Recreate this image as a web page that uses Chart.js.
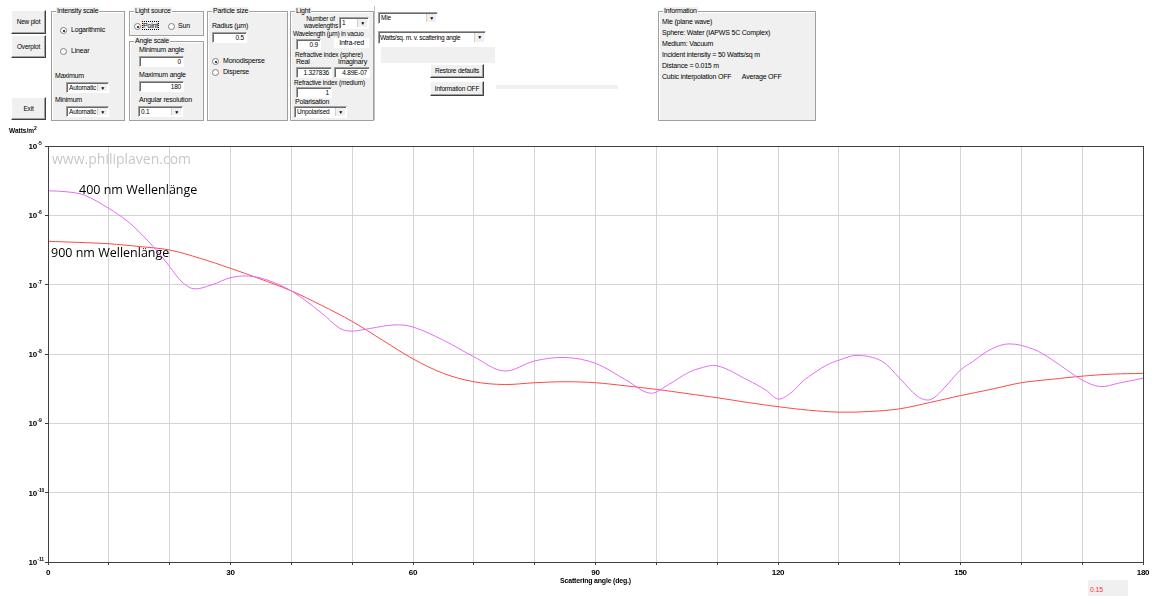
<!DOCTYPE html>
<html>
<head>
<meta charset="utf-8">
<script src="https://cdn.jsdelivr.net/npm/chart.js@4"></script>
<style>
  body { margin: 0; width: 1171px; height: 596px; background: #fff; position: relative; overflow: hidden;
         font-family: "Liberation Sans", Arial, sans-serif; font-size: 7px; letter-spacing: -0.2px; color: #000; }
  .abs { position: absolute; white-space: nowrap; }
  .group { position: absolute; background: #f0f0f0; border: 1px solid #a0a0a0; box-shadow: inset 1px 1px 0 #fff; }
  .gtitle { position: absolute; top: -5px; left: 4px; background: #f0f0f0; padding: 0 1px; line-height: 8px; }
  .btn { position: absolute; background: #f0f0f0; border: 1px solid; border-color: #fff #404040 #404040 #fff;
         box-shadow: inset -1px -1px 0 #a0a0a0; text-align: center; font-size: 6.5px; white-space: nowrap; }
  .input { position: absolute; background: #fff; border: 1px solid; border-color: #a0a0a0 #fff #fff #a0a0a0;
           box-shadow: inset 1px 1px 0 #696969; text-align: right; padding-right: 2px; box-sizing: border-box; font-size: 6.5px; }
  .select { position: absolute; background: #fff; border: 1px solid; border-color: #a0a0a0 #fff #fff #a0a0a0;
            box-shadow: inset 1px 1px 0 #696969; box-sizing: border-box; padding-left: 2px; font-size: 6.5px;
            white-space: nowrap; overflow: hidden; }
  .select::after { content: "▼"; position: absolute; right: 1px; top: 1px; bottom: 1px; width: 9px; background: #f0f0f0;
            border-left: 1px solid #d0d0d0; font-size: 5px; text-align: center; line-height: 8px; }
  .radio { position: absolute; width: 5px; height: 5px; border-radius: 50%; background: #fff; border: 1px solid #808080; }
  .radio.on::after { content: ""; position: absolute; left: 1.5px; top: 1.5px; width: 2px; height: 2px; border-radius: 50%; background: #000; }
  #chartBox { position: absolute; left: 0; top: 120px; width: 1171px; height: 476px; }
</style>
</head>
<body>

<!-- control panel -->
<div class="btn" style="left:11px;top:10px;width:33px;height:22px;line-height:22px;">New plot</div>
<div class="btn" style="left:11px;top:35px;width:33px;height:21px;line-height:21px;">Overplot</div>
<div class="btn" style="left:11px;top:97px;width:33px;height:21px;line-height:21px;">Exit</div>

<div class="group" style="left:51px;top:11px;width:72px;height:108px;">
  <div class="gtitle">Intensity scale</div>
</div>
<div class="radio on" style="left:60px;top:27px;"></div><div class="abs" style="left:71px;top:26px;">Logarithmic</div>
<div class="radio" style="left:60px;top:48px;"></div><div class="abs" style="left:71px;top:47px;">Linear</div>
<div class="abs" style="left:55px;top:72px;">Maximum</div>
<div class="select" style="left:66px;top:82px;width:43px;height:11px;line-height:9px;">Automatic</div>
<div class="abs" style="left:55px;top:96px;">Minimum</div>
<div class="select" style="left:66px;top:106px;width:43px;height:11px;line-height:9px;">Automatic</div>

<div class="group" style="left:129px;top:11px;width:73px;height:23px;">
  <div class="gtitle">Light source</div>
</div>
<div class="radio on" style="left:134px;top:23px;"></div><div class="abs" style="left:143px;top:22px;outline:1px dotted #000;">Point</div>
<div class="radio" style="left:168px;top:23px;"></div><div class="abs" style="left:178px;top:22px;">Sun</div>

<div class="group" style="left:129px;top:41px;width:73px;height:78px;">
  <div class="gtitle">Angle scale</div>
</div>
<div class="abs" style="left:139px;top:46px;">Minimum angle</div>
<div class="input" style="left:139px;top:56px;width:45px;height:11px;line-height:10px;">0</div>
<div class="abs" style="left:139px;top:71px;">Maximum angle</div>
<div class="input" style="left:139px;top:81px;width:45px;height:11px;line-height:10px;">180</div>
<div class="abs" style="left:139px;top:96px;">Angular resolution</div>
<div class="select" style="left:138px;top:106px;width:45px;height:11px;line-height:9px;">0.1</div>

<div class="group" style="left:207px;top:11px;width:79px;height:108px;">
  <div class="gtitle">Particle size</div>
</div>
<div class="abs" style="left:212px;top:22px;">Radius (µm)</div>
<div class="input" style="left:212px;top:32px;width:35px;height:11px;line-height:10px;">0.5</div>
<div class="radio on" style="left:212px;top:58px;"></div><div class="abs" style="left:223px;top:57px;">Monodisperse</div>
<div class="radio" style="left:212px;top:69px;"></div><div class="abs" style="left:223px;top:68px;">Disperse</div>

<div class="group" style="left:290px;top:11px;width:82px;height:108px;">
  <div class="gtitle">Light</div>
</div>
<div class="abs" style="left:296px;top:15px;width:42px;line-height:7px;text-align:right;font-size:6.5px;">Number of&nbsp;&nbsp;<br>wavelengths</div>
<div class="select" style="left:339px;top:17px;width:30px;height:12px;line-height:10px;">1</div>
<div class="abs" style="left:293px;top:30px;font-size:6.5px;">Wavelength (µm) in vacuo</div>
<div class="input" style="left:296px;top:39px;width:25px;height:11px;line-height:10px;">0.9</div>
<div class="abs" style="left:334px;top:38px;width:35px;height:10px;background:#fff;text-align:center;line-height:10px;">Infra-red</div>
<div class="abs" style="left:295px;top:51px;font-size:6.5px;">Refractive index (sphere)</div>
<div class="abs" style="left:296px;top:58px;">Real</div>
<div class="abs" style="left:338px;top:58px;">Imaginary</div>
<div class="input" style="left:296px;top:67px;width:36px;height:11px;line-height:10px;">1.327836</div>
<div class="input" style="left:334px;top:67px;width:36px;height:11px;line-height:10px;">4.89E-07</div>
<div class="abs" style="left:294px;top:79px;font-size:6.5px;">Refractive index (medium)</div>
<div class="input" style="left:296px;top:87px;width:36px;height:11px;line-height:10px;">1</div>
<div class="abs" style="left:295px;top:98px;">Polarisation</div>
<div class="select" style="left:294px;top:106px;width:53px;height:12px;line-height:10px;">Unpolarised</div>

<div class="abs" style="left:374px;top:6px;width:1px;height:114px;background:#c0c0c0;"></div>
<div class="select" style="left:378px;top:12px;width:60px;height:12px;line-height:10px;">Mie</div>
<div class="select" style="left:378px;top:31px;width:108px;height:13px;line-height:11px;padding-left:1px;letter-spacing:-0.3px;">Watts/sq. m. v. scattering angle</div>
<div class="abs" style="left:381px;top:47px;width:114px;height:16px;background:#f0f0f0;"></div>
<div class="btn" style="left:430px;top:64px;width:52px;height:12px;line-height:12px;">Restore defaults</div>
<div class="btn" style="left:430px;top:81px;width:52px;height:13px;line-height:13px;">Information OFF</div>
<div class="abs" style="left:496px;top:85px;width:122px;height:4px;background:#f0f0f0;"></div>

<div class="group" style="left:658px;top:11px;width:156px;height:108px;">
  <div class="gtitle">Information</div>
</div>
<div class="abs" style="left:662px;top:17px;line-height:10.9px;">Mie (plane wave)<br>Sphere: Water (IAPWS 5C Complex)<br>Medium: Vacuum<br>Incident intensity = 50 Watts/sq m<br>Distance = 0.015 m<br>Cubic interpolation OFF &nbsp;&nbsp;&nbsp;&nbsp;&nbsp;Average OFF</div>

<!-- chart -->
<div id="chartBox"><canvas id="mieChart"></canvas></div>

<div class="abs" style="left:9px;top:125px;font-weight:bold;font-size:6.5px;letter-spacing:0;">Watts/m<sup style="font-size:5px;">2</sup></div>
<div class="abs" style="left:52px;top:149px;font-size:14px;color:#c8c8c8;font-family:'Open Sans',sans-serif;letter-spacing:0;">www.philiplaven.com</div>
<div class="abs" style="left:79px;top:181px;font-size:12.5px;font-family:'Open Sans',sans-serif;letter-spacing:0;">400 nm Wellenlänge</div>
<div class="abs" style="left:51px;top:244px;font-size:12.5px;font-family:'Open Sans',sans-serif;letter-spacing:0;">900 nm Wellenlänge</div>
<div class="abs" style="left:1088px;top:580px;width:40px;height:16px;background:#f0f0f0;"></div>
<div class="abs" style="left:1090px;top:586px;color:#ff3030;font-size:7px;">0.15</div>

<script>
// scattering angle (deg.) and intensity (Watts/m^2)
const angles400 = [0, 3, 6, 10, 13, 15, 18, 20, 22, 24, 27, 30, 33, 36, 40, 45, 48, 50, 53, 57, 60,
  65, 70, 75, 80, 85, 90, 95, 99, 102, 105, 107, 110, 115, 118, 120, 122, 124, 125, 128, 130, 133, 137, 140,
  143, 145, 147, 150, 152, 155, 158, 162, 165, 170, 173, 176, 180];
const watts400 = [2.26e-6, 2.19e-6, 1.95e-6, 1.26e-6, 8.32e-7, 5.75e-7, 3.02e-7, 1.82e-7, 1.10e-7, 8.71e-8,
  1.00e-7, 1.26e-7, 1.33e-7, 1.17e-7, 8.13e-8, 3.89e-8, 2.34e-8, 2.14e-8, 2.34e-8, 2.63e-8, 2.45e-8,
  1.58e-8, 9.12e-9, 5.69e-9, 7.94e-9, 8.91e-9, 7.33e-9, 4.22e-9, 2.72e-9, 3.62e-9, 5.25e-9, 6.17e-9, 6.76e-9,
  4.22e-9, 3.02e-9, 2.24e-9, 2.69e-9, 3.98e-9, 4.68e-9, 6.92e-9, 8.13e-9, 9.55e-9, 7.94e-9, 4.47e-9,
  2.43e-9, 2.19e-9, 3.02e-9, 5.89e-9, 7.76e-9, 1.17e-8, 1.40e-8, 1.17e-8, 8.32e-9, 4.22e-9, 3.39e-9, 3.80e-9, 4.47e-9];

const angles900 = [0, 5, 10, 15, 20, 25, 30, 35, 40, 45, 50, 55, 60, 65, 70, 75, 80, 85, 90,
  95, 100, 105, 110, 115, 120, 125, 130, 135, 140, 145, 150, 155, 160, 165, 170, 175, 180];
const watts900 = [4.22e-7, 4.07e-7, 3.89e-7, 3.55e-7, 3.16e-7, 2.40e-7, 1.72e-7, 1.20e-7, 8.13e-8, 5.01e-8,
  2.95e-8, 1.58e-8, 8.51e-9, 5.25e-9, 3.98e-9, 3.63e-9, 3.85e-9, 3.98e-9, 3.85e-9,
  3.47e-9, 3.09e-9, 2.69e-9, 2.34e-9, 2.00e-9, 1.74e-9, 1.55e-9, 1.45e-9, 1.48e-9, 1.62e-9, 2.00e-9,
  2.51e-9, 3.09e-9, 3.85e-9, 4.32e-9, 4.79e-9, 5.13e-9, 5.25e-9];

const yTickValues = [1e-11, 1e-10, 1e-9, 1e-8, 1e-7, 1e-6, 1e-5];
const yTickExponents = ["-11", "-10", "-9", "-8", "-7", "-6", "-5"];
const xLabelAngles = [0, 30, 60, 90, 120, 150, 180];

function toPoints(xs, ys) {
  return xs.map((x, i) => ({ x: x, y: ys[i] }));
}

const frameAndLabels = {
  id: "frameAndLabels",
  afterDraw(chart) {
    const ctx = chart.ctx;
    const area = chart.chartArea;
    const yScale = chart.scales.y;
    ctx.save();
    ctx.strokeStyle = "#404040";
    ctx.lineWidth = 1;
    ctx.strokeRect(Math.round(area.left) + 0.5, Math.round(area.top) + 0.5,
      Math.round(area.right - area.left), Math.round(area.bottom - area.top));
    ctx.fillStyle = "#000";
    ctx.textBaseline = "alphabetic";
    yTickValues.forEach((v, i) => {
      const y = yScale.getPixelForValue(v);
      ctx.font = "bold 8px 'Liberation Sans', Arial, sans-serif";
      ctx.textAlign = "right";
      ctx.fillText("10", 37, y + 3);
      ctx.font = "bold 5px 'Liberation Sans', Arial, sans-serif";
      ctx.textAlign = "left";
      ctx.fillText(yTickExponents[i], 37.5, y - 1);
    });
    ctx.restore();
  }
};

document.addEventListener("DOMContentLoaded", function () {
  const canvas = document.getElementById("mieChart");

  new Chart(canvas, {
    type: "line",
    data: {
      datasets: [
        {
          label: "400 nm",
          data: toPoints(angles400, watts400),
          borderColor: "#e46cf5",
          borderWidth: 1,
          pointRadius: 0,
          tension: 0.35,
          fill: false,
        },
        {
          label: "900 nm",
          data: toPoints(angles900, watts900),
          borderColor: "#ff4848",
          borderWidth: 1,
          pointRadius: 0,
          tension: 0.35,
          fill: false,
        },
      ],
    },
    options: {
      responsive: true,
      maintainAspectRatio: false,
      animation: false,
      layout: { padding: { left: 0, right: 28, top: 26, bottom: 0 } },
      plugins: {
        legend: { display: false },
        tooltip: { enabled: false },
      },
      scales: {
        x: {
          type: "linear",
          min: 0,
          max: 180,
          afterFit: (scale) => { scale.height = 34; },
          ticks: {
            stepSize: 10,
            autoSkip: false,
            maxRotation: 0,
            padding: 3,
            color: "#000",
            font: { family: "'Liberation Sans', Arial, sans-serif", size: 8, weight: "bold" },
            callback: (value) => (xLabelAngles.includes(value) ? String(value) : ""),
          },
          grid: { color: "#d4d4d4", tickColor: "#404040", tickLength: 3 },
          border: { color: "#404040" },
          title: {
            display: true,
            text: "Scattering angle (deg.)",
            color: "#000",
            padding: { top: 0, bottom: 11 },
            font: { family: "'Liberation Sans', Arial, sans-serif", size: 7, weight: "bold" },
          },
        },
        y: {
          type: "logarithmic",
          min: 1e-11,
          max: 1e-5,
          afterFit: (scale) => { scale.width = 48; },
          afterBuildTicks: (scale) => {
            scale.ticks = yTickValues.map((v) => ({ value: v }));
          },
          ticks: { display: false },
          grid: { color: "#d4d4d4", tickColor: "#404040", tickLength: 3 },
          border: { color: "#404040" },
        },
      },
    },
    plugins: [frameAndLabels],
  });
});
</script>
</body>
</html>
